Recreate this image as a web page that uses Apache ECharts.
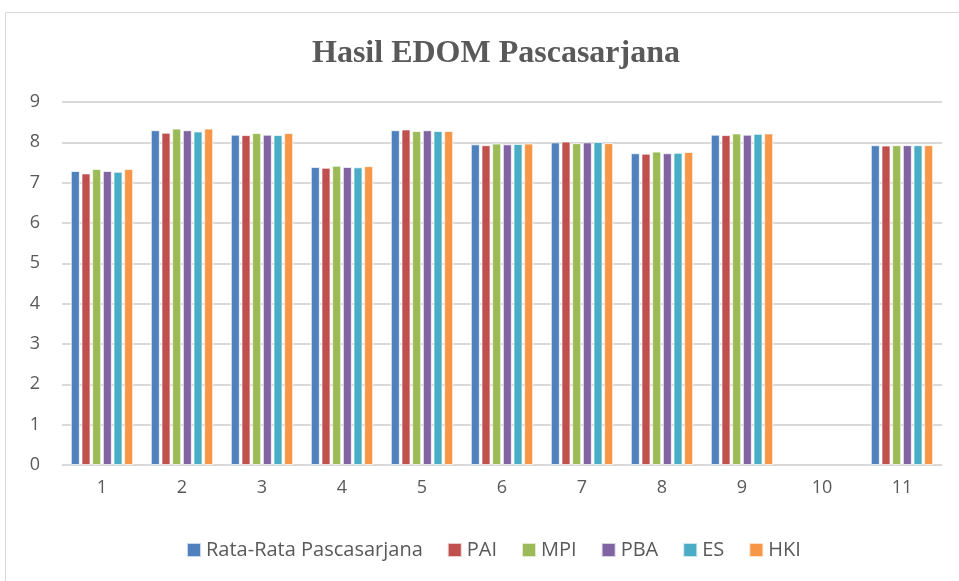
<!DOCTYPE html>
<html>
<head>
<meta charset="utf-8">
<script src="https://cdn.jsdelivr.net/npm/echarts@6/dist/echarts.min.js"></script>
<style>
  html, body { margin: 0; padding: 0; background: #fff; }
  #chart { width: 959px; height: 581px; }
</style>
</head>
<body>
<div id="chart"></div>
<script>
  var categories = ['1', '2', '3', '4', '5', '6', '7', '8', '9', '10', '11'];
  var rataRata = [7.29, 8.30, 8.19, 7.39, 8.30, 7.95, 8.00, 7.73, 8.19, null, 7.93];
  var pai = [7.23, 8.24, 8.18, 7.37, 8.32, 7.93, 8.02, 7.72, 8.18, null, 7.92];
  var mpi = [7.34, 8.34, 8.23, 7.42, 8.28, 7.97, 7.98, 7.77, 8.22, null, 7.93];
  var pba = [7.29, 8.30, 8.19, 7.39, 8.30, 7.95, 8.00, 7.73, 8.19, null, 7.93];
  var es = [7.27, 8.27, 8.18, 7.38, 8.28, 7.96, 8.01, 7.74, 8.21, null, 7.93];
  var hki = [7.34, 8.34, 8.23, 7.41, 8.28, 7.97, 7.98, 7.76, 8.22, null, 7.93];
  var yTicks = [0, 1, 2, 3, 4, 5, 6, 7, 8, 9];

  var chart = echarts.init(document.getElementById('chart'));

  function barSeries (name, data) {
    return {
      name: name,
      type: 'bar',
      data: data,
      barGap: '18%',
      barCategoryGap: '22%',
      itemStyle: { borderColor: 'rgba(255,255,255,0.7)', borderWidth: 1 },
      animation: false
    };
  }

  chart.setOption({
    backgroundColor: '#fff',
    color: ['#4F81BD', '#C0504D', '#9BBB59', '#8064A2', '#4BACC6', '#F79646'],
    graphic: [{
      type: 'rect',
      shape: { x: 5.5, y: 12.5, width: 960, height: 580 },
      style: { fill: 'none', stroke: '#d9d9d9', lineWidth: 1 },
      silent: true
    }],
    title: {
      text: 'Hasil EDOM Pascasarjana',
      left: 307,
      top: 33,
      textStyle: {
        fontFamily: 'Liberation Serif',
        fontWeight: 'bold',
        fontSize: 32,
        color: '#595959'
      }
    },
    legend: {
      bottom: 16,
      left: 181,
      itemWidth: 14,
      itemHeight: 14,
      itemGap: 24,
      icon: 'rect',
      textStyle: { fontFamily: 'Open Sans', fontSize: 20, color: '#595959' }
    },
    grid: { left: 62, right: 17, top: 102, bottom: 116, containLabel: false },
    xAxis: {
      type: 'category',
      data: categories,
      axisLine: { lineStyle: { color: '#d9d9d9', width: 1 } },
      axisTick: { show: false },
      axisLabel: { fontFamily: 'Open Sans', fontSize: 18, color: '#595959', margin: 14 }
    },
    yAxis: {
      type: 'value',
      min: yTicks[0],
      max: yTicks[yTicks.length - 1],
      interval: 1,
      axisLine: { show: false },
      axisTick: { show: false },
      splitLine: { lineStyle: { color: '#d9d9d9', width: 2 } },
      axisLabel: { fontFamily: 'Open Sans', fontSize: 18, color: '#595959', margin: 22 }
    },
    series: [
      barSeries('Rata-Rata Pascasarjana', rataRata),
      barSeries('PAI', pai),
      barSeries('MPI', mpi),
      barSeries('PBA', pba),
      barSeries('ES', es),
      barSeries('HKI', hki)
    ]
  });
</script>
</body>
</html>
